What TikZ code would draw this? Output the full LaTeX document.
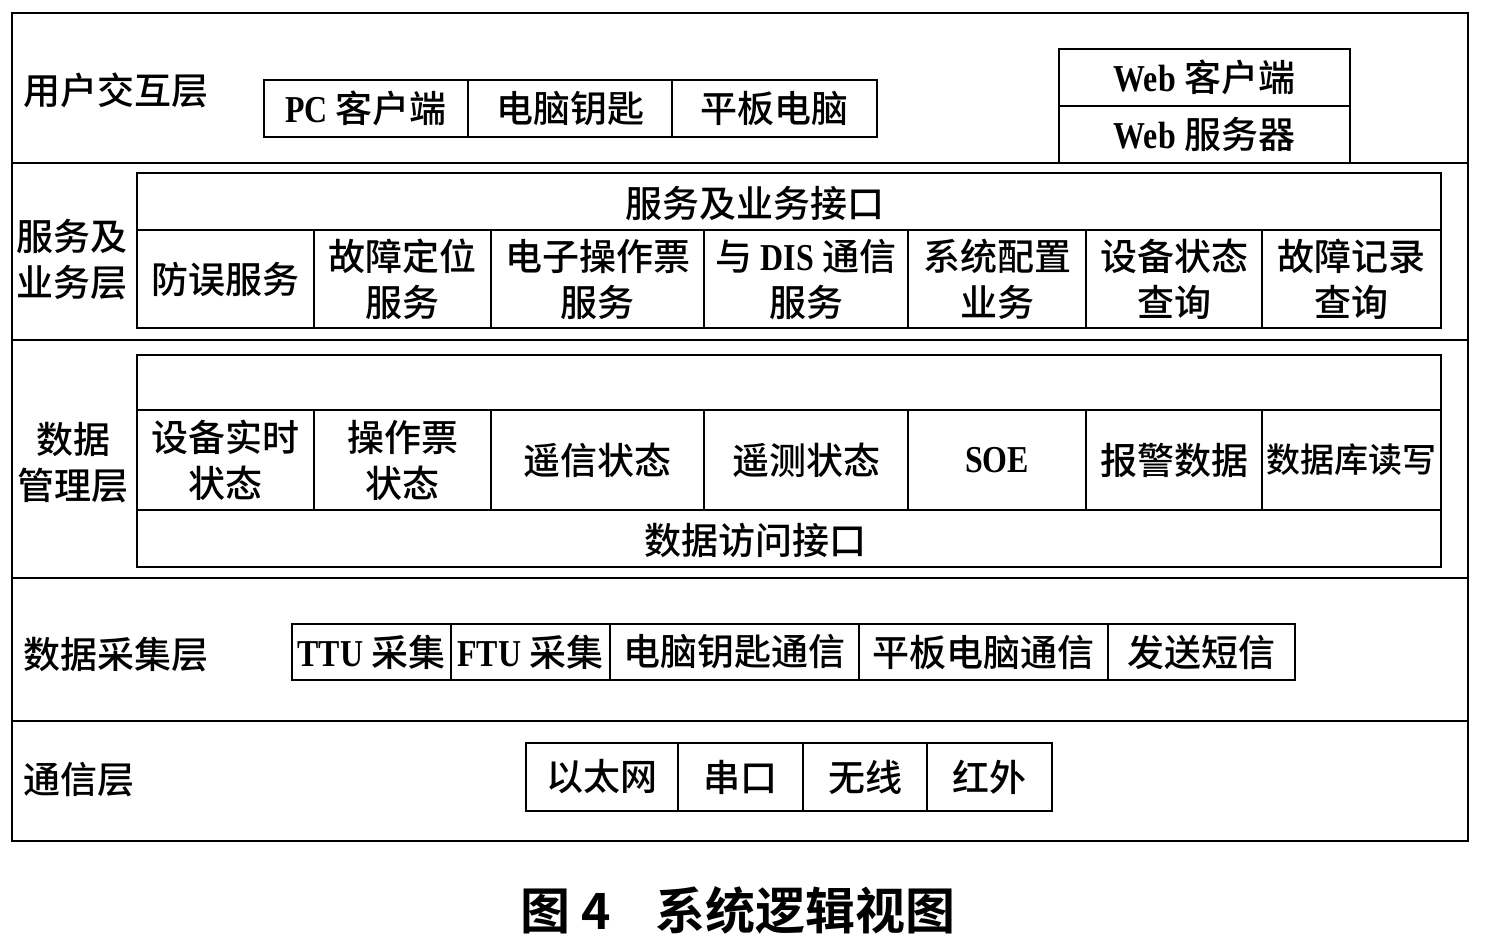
\documentclass[tikz,border=0pt]{standalone}
\usepackage{fontspec}
\setmainfont{Liberation Serif}
\newfontfamily\cjk{Noto Sans CJK SC}[UprightFont={* Medium}, BoldFont={* Bold}]
\newcommand\lat[1]{\scalebox{0.84}[1]{\rmfamily\bfseries\fontsize{38}{46}\selectfont #1}}
\tikzset{
  band/.style={draw, line width=2.6pt, inner sep=0pt},
  cellbox/.style={draw, line width=2.4pt, inner sep=0pt, align=center, font=\cjk\fontsize{37}{46}\selectfont},
  lbl/.style={inner sep=0pt, align=center, font=\cjk\fontsize{37}{46}\selectfont},
  caption/.style={inner sep=0pt, font=\cjk\bfseries\fontsize{50}{60}\selectfont},
}
\newcommand\cell[6]{%
  \pgfmathsetmacro\cx{(#2+#4)/2}\pgfmathsetmacro\cy{(#3+#5)/2}%
  \pgfmathsetmacro\cw{#4-#2}\pgfmathsetmacro\ch{#5-#3}%
  \node[cellbox, minimum width=\cw pt, minimum height=\ch pt] (#1) at (\cx,\cy) {#6};}
\newcommand\band[5]{%
  \pgfmathsetmacro\cx{(#2+#4)/2}\pgfmathsetmacro\cy{(#3+#5)/2}%
  \pgfmathsetmacro\cw{#4-#2}\pgfmathsetmacro\ch{#5-#3}%
  \node[band, minimum width=\cw pt, minimum height=\ch pt] (#1) at (\cx,\cy) {};}
\begin{document}
\begin{tikzpicture}[x=1pt,y=-1pt]
\useasboundingbox (0,0) rectangle (1486,940);
% layer bands
\band{b1}{12}{13}{1468}{163}
\band{b2}{12}{163}{1468}{340}
\band{b3}{12}{340}{1468}{578}
\band{b4}{12}{578}{1468}{721}
\band{b5}{12}{721}{1468}{841}
% layer labels
\node[lbl] (l1) at (116,90) {用户交互层};
\node[lbl] (l2) at (72,260) {服务及\\业务层};
\node[lbl] (l3) at (73,463) {数据\\管理层};
\node[lbl] (l4) at (116,655) {数据采集层};
\node[lbl] (l5) at (79,780) {通信层};
% user layer
\cell{pc}{264}{80}{468}{137}{\lat{PC} 客户端}
\cell{key}{468}{80}{672}{137}{电脑钥匙}
\cell{pad}{672}{80}{877}{137}{平板电脑}
\cell{webc}{1059}{49}{1350}{106}{\lat{Web} 客户端}
\cell{webs}{1059}{106}{1350}{163}{\lat{Web} 服务器}
% service layer
\cell{svcif}{137}{173}{1441}{230}{}
\node[lbl] (svciftext) at (755,203) {服务及业务接口};
\cell{s1}{137}{230}{314}{328}{防误服务}
\cell{s2}{314}{230}{491}{328}{故障定位\\服务}
\cell{s3}{491}{230}{704}{328}{电子操作票\\服务}
\cell{s4}{704}{230}{908}{328}{与 \lat{DIS} 通信\\服务}
\cell{s5}{908}{230}{1086}{328}{系统配置\\业务}
\cell{s6}{1086}{230}{1262}{328}{设备状态\\查询}
\cell{s7}{1262}{230}{1441}{328}{故障记录\\查询}
% data management layer
\cell{dtop}{137}{355}{1441}{410}{}
\cell{d1}{137}{410}{314}{510}{设备实时\\状态}
\cell{d2}{314}{410}{491}{510}{操作票\\状态}
\cell{d3}{491}{410}{704}{510}{遥信状态}
\cell{d4}{704}{410}{908}{510}{遥测状态}
\cell{d5}{908}{410}{1086}{510}{\lat{SOE}}
\cell{d6}{1086}{410}{1262}{510}{报警数据}
\cell{d7}{1262}{410}{1441}{510}{\fontsize{34}{46}\selectfont 数据库读写}
\cell{dacc}{137}{510}{1441}{567}{}
\node[lbl] (dacctext) at (755,540) {数据访问接口};
% data acquisition layer
\cell{a1}{292}{624}{451}{680}{\lat{TTU} 采集}
\cell{a2}{451}{624}{610}{680}{\lat{FTU} 采集}
\cell{a3}{610}{624}{859}{680}{电脑钥匙通信}
\cell{a4}{859}{624}{1108}{680}{平板电脑通信}
\cell{a5}{1108}{624}{1295}{680}{发送短信}
% communication layer
\cell{c1}{526}{743}{678}{811}{以太网}
\cell{c2}{678}{743}{803}{811}{串口}
\cell{c3}{803}{743}{927}{811}{无线}
\cell{c4}{927}{743}{1052}{811}{红外}
% caption
\node[caption] (cap) at (738,910) {图 4\hspace{0.9em}系统逻辑视图};
\end{tikzpicture}
\end{document}
